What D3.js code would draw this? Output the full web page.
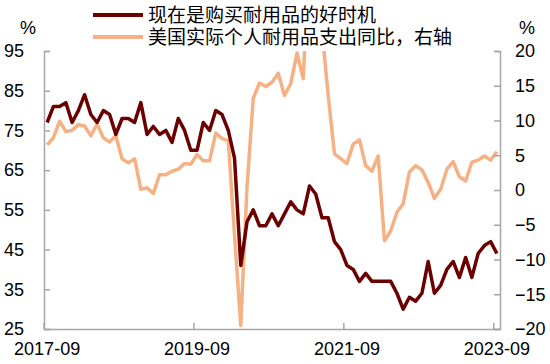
<!DOCTYPE html>
<html>
<head>
<meta charset="utf-8">
<script src="https://cdn.jsdelivr.net/npm/d3@7"></script>
<style>
  body { margin: 0; background: #fff; }
  text { font-family: "Liberation Sans", Arial, sans-serif; fill: #000; }
  .legend text { font-family: "Noto Sans CJK SC", sans-serif; }
</style>
</head>
<body>
<div id="chart"></div>
<script>
// SVG area
var svgWidth = 550;
var svgHeight = 364;

var chartMargin = { top: 51, right: 50, bottom: 35, left: 44 };
var width = svgWidth - chartMargin.left - chartMargin.right;
var height = svgHeight - chartMargin.top - chartMargin.bottom;

// Data: monthly, 2017-09 .. 2023-09
var startMonth = new Date(2017, 8, 1);
var endMonth = new Date(2023, 9, 1);
var months = d3.timeMonth.range(startMonth, endMonth);

// 现在是购买耐用品的好时机 (left axis)
var goodTime = [
  77, 81, 81, 82, 77, 80, 84, 79, 77, 80,
  79, 74, 78, 78, 77, 82, 74, 76, 74, 75,
  72, 78, 75, 70, 70, 77, 75, 80, 79, 75,
  68, 41, 52, 55, 51, 51, 54, 51, 54, 57,
  55, 54, 61, 59, 53, 53, 47, 45, 41, 40,
  37, 39, 37, 37, 37, 37, 34, 30, 33, 32,
  34, 42, 34, 36, 40, 42, 38, 43, 38, 44,
  46, 47, 44
];

// 美国实际个人耐用品支出同比 (right axis)
var durableYoY = [
  6.5, 7.5, 9.9, 8.4, 8.6, 9.4, 9.2, 7.8, 9.5, 7.5,
  6.9, 7.8, 4.5, 3.9, 4.5, 0.1, 0.3, -0.5, 2.2, 2.2,
  2.7, 3.0, 3.8, 3.7, 5.1, 4.2, 4.2, 8.2, 7.4, 7.1,
  -6.5, -19.5, 0.5, 13.2, 15.4, 14.9, 15.5, 16.8, 13.6, 15.3,
  19.7, 16.0, 35, 60, 23, 13.6, 5.2, 4.5, 3.8, 6.6,
  7.2, 3.5, 2.7, 4.9, -7.3, -5.9, -3.2, -2.0, 2.6, 3.5,
  2.9, 1.1, -1.2, 0.1, 3.0, 4.1, 1.9, 1.3, 4.0, 4.3,
  4.9, 4.3, 5.5
];

var leftTicks = [25, 35, 45, 55, 65, 75, 85, 95];
var rightTicks = [-20, -15, -10, -5, 0, 5, 10, 15, 20];
var xTickLabels = ["2017-09", "2019-09", "2021-09", "2023-09"];

var seriesNames = ["现在是购买耐用品的好时机", "美国实际个人耐用品支出同比，右轴"];
var darkColor = "#6B0000";
var lightColor = "#F5B183";
var axisColor = "#A6A6A6";

var fmt = d3.timeFormat("%Y-%m");

var svg = d3
  .select("#chart")
  .append("svg")
  .attr("width", svgWidth)
  .attr("height", svgHeight);

var chartGroup = svg
  .append("g")
  .attr("transform", `translate(${chartMargin.left}, ${chartMargin.top})`);

// scales
var xScale = d3
  .scaleBand()
  .domain(months.map(fmt))
  .range([0, width])
  .paddingInner(0)
  .paddingOuter(0);

var yLeft = d3.scaleLinear().domain([25, 95]).range([height, 0]);
var yRight = d3.scaleLinear().domain([-20, 20]).range([height, 0]);

var xCenter = (i) => xScale(fmt(months[i])) + xScale.bandwidth() / 2;

// clip so the spike above 20 is cut at the plot top
svg
  .append("defs")
  .append("clipPath")
  .attr("id", "plotClip")
  .append("rect")
  .attr("x", 0)
  .attr("y", 0)
  .attr("width", width)
  .attr("height", height);

// lines
var lightLine = d3
  .line()
  .x((d, i) => xCenter(i))
  .y((d) => yRight(d));

var darkLine = d3
  .line()
  .x((d, i) => xCenter(i))
  .y((d) => yLeft(d));

chartGroup
  .append("path")
  .datum(durableYoY)
  .attr("clip-path", "url(#plotClip)")
  .attr("fill", "none")
  .attr("stroke", lightColor)
  .attr("stroke-width", 3.5)
  .attr("stroke-linejoin", "round")
  .attr("d", lightLine);

chartGroup
  .append("path")
  .datum(goodTime)
  .attr("fill", "none")
  .attr("stroke", darkColor)
  .attr("stroke-width", 3.5)
  .attr("stroke-linejoin", "round")
  .attr("d", darkLine);

// left axis (ticks inside)
var leftAxis = d3
  .axisLeft(yLeft)
  .tickValues(leftTicks)
  .tickSizeInner(-6)
  .tickSizeOuter(-6)
  .tickPadding(20);

var leftG = chartGroup.append("g").call(leftAxis);

// right axis (ticks inside)
var rightAxis = d3
  .axisRight(yRight)
  .tickValues(rightTicks)
  .tickSizeInner(-6)
  .tickSizeOuter(-6)
  .tickPadding(15);

var rightG = chartGroup
  .append("g")
  .attr("transform", `translate(${width}, 0)`)
  .call(rightAxis);

// bottom axis: labels at band centres, tick marks at band edges
var bottomAxis = d3
  .axisBottom(xScale)
  .tickValues(xTickLabels)
  .tickSize(0)
  .tickPadding(13);

var bottomG = chartGroup
  .append("g")
  .attr("transform", `translate(0, ${height})`)
  .call(bottomAxis);

bottomG
  .selectAll(".edgeTick")
  .data(xTickLabels)
  .enter()
  .append("line")
  .attr("class", "edgeTick")
  .attr("x1", (d) => xScale(d))
  .attr("x2", (d) => xScale(d))
  .attr("y1", 0)
  .attr("y2", -6);

[leftG, rightG, bottomG].forEach(function (g) {
  g.selectAll("path, line")
    .attr("stroke", axisColor)
    .attr("stroke-width", 1.5);
  g.selectAll("text")
    .attr("font-size", "18px")
    .attr("font-family", '"Liberation Sans", Arial, sans-serif')
    .attr("fill", "#000");
});

// unit labels
svg
  .append("text")
  .attr("x", 28)
  .attr("y", 34)
  .attr("text-anchor", "middle")
  .attr("font-size", "18px")
  .text("%");

svg
  .append("text")
  .attr("x", 527)
  .attr("y", 34)
  .attr("text-anchor", "middle")
  .attr("font-size", "18px")
  .text("%");

// legend
var legend = svg.append("g").attr("class", "legend");
var legendColors = [darkColor, lightColor];
var legendY = [15, 37];

legend
  .selectAll("line")
  .data(seriesNames)
  .enter()
  .append("line")
  .attr("x1", 93)
  .attr("x2", 143)
  .attr("y1", (d, i) => legendY[i])
  .attr("y2", (d, i) => legendY[i])
  .attr("stroke", (d, i) => legendColors[i])
  .attr("stroke-width", 4);

legend
  .selectAll("text")
  .data(seriesNames)
  .enter()
  .append("text")
  .attr("x", 148)
  .attr("y", (d, i) => legendY[i] + 7)
  .attr("font-size", "19px")
  .text((d) => d);
</script>
</body>
</html>
